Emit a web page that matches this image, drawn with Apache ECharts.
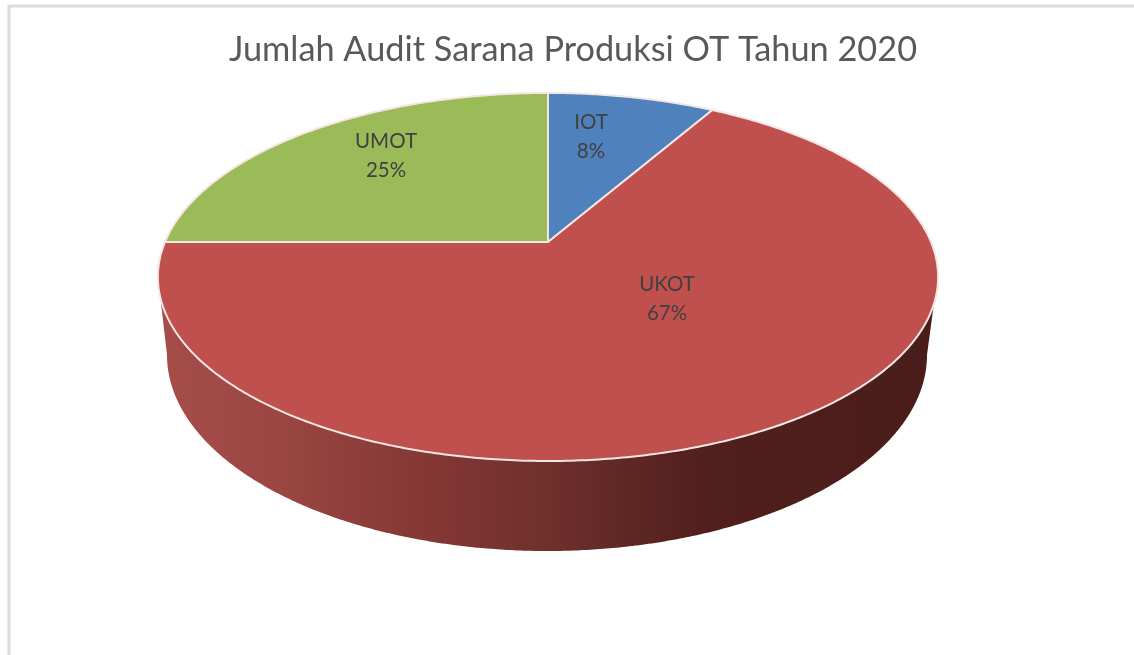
<!DOCTYPE html>
<html>
<head>
<meta charset="utf-8">
<style>html,body{margin:0;padding:0;background:#fff}#chart{width:1134px;height:655px}</style>
<script src="https://cdn.jsdelivr.net/npm/echarts@6/dist/echarts.min.js"></script>
</head>
<body>
<div id="chart"></div>
<script>
const titleText = 'Jumlah Audit Sarana Produksi OT Tahun 2020';
const categories = ['IOT', 'UKOT', 'UMOT'];
const values = [1, 8, 3];
const sliceColors = ['#4f81bd', '#c0504d', '#9bbb59'];

// Perspective of the tilted disc: unit circle -> screen
const VIEW = { cx: 548, cy: 242, d: 383, a: 131.4, c: -0.19 };
// Lower rim of the disc
const RIM = { cx: 547, cy: 355, rx: 380, ry: 196, startY: 303 };
const LABEL_POS = { IOT: [591, 137], UKOT: [667, 299], UMOT: [386, 156] };

const total = values.reduce((s, v) => s + v, 0);
const project = (t, r) => {
  const X = r * Math.sin(t), Y = -r * Math.cos(t), w = 1 + VIEW.c * Y;
  return [VIEW.cx + VIEW.d * X / w, (VIEW.a * Y + VIEW.cy) / w];
};

function renderSlice(params) {
  const i = params.dataIndex;
  let before = 0;
  for (let k = 0; k < i; k++) before += values[k];
  const t0 = before / total * 2 * Math.PI;
  const t1 = (before + values[i]) / total * 2 * Math.PI;
  const pts = [project(0, 0)];
  const n = Math.ceil((t1 - t0) / 0.01);
  for (let k = 0; k <= n; k++) pts.push(project(t0 + (t1 - t0) * k / n, 1));
  const pos = LABEL_POS[categories[i]];
  const pct = Math.round(values[i] / total * 100) + '%';
  return {
    type: 'group',
    children: [
      { type: 'polygon', shape: { points: pts },
        style: { fill: sliceColors[i], stroke: '#f4e6e3', lineWidth: 2, lineJoin: 'round' } },
      { type: 'text', x: pos[0], y: pos[1], z2: 10,
        style: { text: categories[i] + '\n' + pct, fill: '#404040', font: '20.5px Lato',
                 lineHeight: 29, align: 'center', verticalAlign: 'middle' } }
    ]
  };
}

function renderWall() {
  const pts = [];
  const a0 = Math.PI;
  pts.push([161, RIM.startY]);
  for (let k = 0; k <= 360; k++) {
    const a = a0 - Math.PI * k / 360;
    pts.push([RIM.cx + RIM.rx * Math.cos(a), RIM.cy + RIM.ry * Math.sin(a)]);
  }
  pts.push([934, RIM.startY]);
  return {
    type: 'polygon', shape: { points: pts },
    style: {
      fill: new echarts.graphic.LinearGradient(0, 0, 1, 0, [
        { offset: 0, color: '#a64d4a' },
        { offset: 0.15, color: '#9b4643' },
        { offset: 0.32, color: '#873935' },
        { offset: 0.5, color: '#6f302c' },
        { offset: 0.7, color: '#511f1d' },
        { offset: 1, color: '#4a1d1a' }
      ])
    }
  };
}

const chart = echarts.init(document.getElementById('chart'), null, { renderer: 'canvas' });
chart.setOption({
  backgroundColor: '#ffffff',
  animation: false,
  title: {
    text: titleText, left: 568, top: 28, textAlign: 'center',
    textStyle: { fontFamily: 'Lato', fontSize: 34.3, fontWeight: 'normal', color: '#595959' }
  },
  graphic: [{
    type: 'rect', silent: true, z: -1,
    shape: { x: 9, y: 6, width: 1140, height: 660 },
    style: { fill: 'none', stroke: '#dcdcdc', lineWidth: 3 }
  }],
  series: [
    { type: 'custom', coordinateSystem: 'none', silent: true, z: 1, data: [0], renderItem: renderWall },
    { type: 'custom', coordinateSystem: 'none', silent: true, z: 2, name: 'Audit',
      data: categories.map((c, i) => ({ name: c, value: values[i] })), renderItem: renderSlice }
  ]
});
</script>
</body>
</html>
